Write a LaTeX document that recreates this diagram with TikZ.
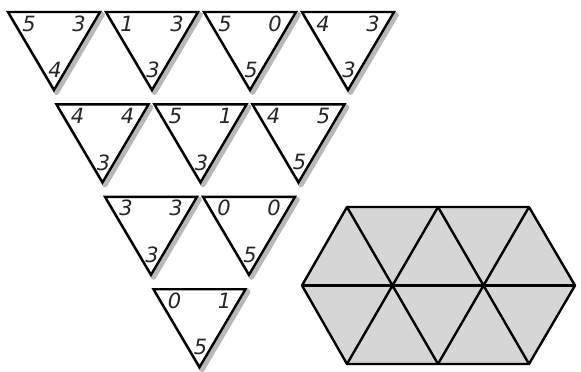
\documentclass[tikz,border=0pt]{standalone}
\usepackage{fontspec}
\newfontfamily\tilefont{DejaVu Sans}
\usetikzlibrary{calc}
\begin{document}
\begin{tikzpicture}[x=1pt,y=-1pt,
			tile/.style={draw=black,line width=2.4pt,line join=miter,fill=white},
			tileshade/.style={draw=black!28,line width=5pt,line join=round},
			digit/.style={font=\fontsize{21}{21}\selectfont\tilefont\itshape,inner sep=0pt,text=black!85},
			grid/.style={draw=black,line width=2.4pt,line join=round}
			]
			\useasboundingbox (0,0) rectangle (581,372);
			% tiles: row/column/left/right/bottom
			\foreach \r/\c/\a/\b/\d [count=\i] in {0/0/5/3/4,0/1/1/3/3,0/2/5/0/5,0/3/4/3/3,
				1/0/4/4/3,1/1/5/1/3,1/2/4/5/5,2/0/3/3/3,2/1/0/0/5,3/0/0/1/5}{
				\coordinate (p\i) at ({54+98*\c+48.5*\r},{12+92.4*\r});
				\draw[tileshade] ($(p\i)+(-43.5,2.5)$) -- ($(p\i)+(48.5,2.5)$) -- ($(p\i)+(2.5,80.5)$) -- cycle;
				\draw[tile] ($(p\i)+(-46,0)$) -- ($(p\i)+(46,0)$) -- ($(p\i)+(0,78)$) -- cycle;
				\node[digit] (a\i) at ($(p\i)+(-25,11.5)$) {\a};
				\node[digit] (b\i) at ($(p\i)+(25,11.5)$) {\b};
				\node[digit] (d\i) at ($(p\i)+(1,58)$) {\d};
			}
			% hexagon of ten triangles
			\coordinate (t0) at (347,207);
			\coordinate (t1) at (438,207);
			\coordinate (t2) at (529,207);
			\coordinate (m0) at (302,285.5);
			\coordinate (m3) at (575,285.5);
			\coordinate (b0) at (347,364);
			\coordinate (b1) at (438,364);
			\coordinate (b2) at (529,364);
			\fill[black!16] (m0) -- (t0) -- (t2) -- (m3) -- (b2) -- (b0) -- cycle;
			\draw[grid] (m0) -- (t0) -- (t2) -- (m3) -- (b2) -- (b0) -- cycle;
			\draw[grid] (m0) -- (m3);
			\draw[grid] (t0) -- (b1) (t1) -- (b2) (t1) -- (b0) (t2) -- (b1);
		\end{tikzpicture}
\end{document}
